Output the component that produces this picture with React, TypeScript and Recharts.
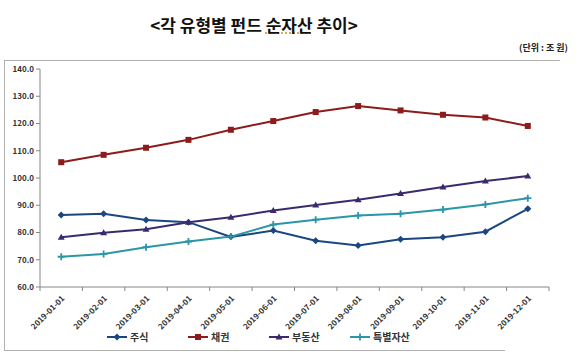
import React from 'react';
import { LineChart, Line, XAxis, YAxis, Legend } from 'recharts';

const months = [
  '2019-01-01', '2019-02-01', '2019-03-01', '2019-04-01', '2019-05-01', '2019-06-01',
  '2019-07-01', '2019-08-01', '2019-09-01', '2019-10-01', '2019-11-01', '2019-12-01',
];
const stocks = [86.4, 86.9, 84.6, 83.8, 78.4, 80.7, 77.0, 75.2, 77.5, 78.3, 80.3, 88.7];
const bonds = [105.8, 108.5, 111.1, 114.0, 117.7, 120.9, 124.2, 126.4, 124.8, 123.2, 122.2, 119.1];
const realEstate = [78.3, 79.9, 81.2, 83.8, 85.6, 88.1, 90.1, 92.0, 94.3, 96.7, 98.9, 100.7];
const specialAssets = [71.1, 72.1, 74.6, 76.7, 78.5, 82.9, 84.7, 86.2, 86.9, 88.4, 90.3, 92.6];
const yTicks = [60, 70, 80, 90, 100, 110, 120, 130, 140];

const data = months.map((m, i) => ({
  idx: i,
  month: m,
  stocks: stocks[i],
  bonds: bonds[i],
  realEstate: realEstate[i],
  specialAssets: specialAssets[i],
}));

// tick marks sit between categories (Excel style)
const xBoundaries = months.map((_, i) => i - 0.5).concat(months.length - 0.5);

const FONT = '"Noto Sans CJK KR", "Noto Sans", sans-serif';
const CHART_W = 560;
const PLOT_LEFT = 40;
const PLOT_RIGHT_MARGIN = 11;
const HALF_BAND = (CHART_W - PLOT_LEFT - PLOT_RIGHT_MARGIN) / months.length / 2;

// marker shapes
const Diamond = ({ cx, cy, color }: any) => (
  <path d={`M${cx},${cy - 3.5} L${cx + 3.5},${cy} L${cx},${cy + 3.5} L${cx - 3.5},${cy} Z`} fill={color} />
);
const Square = ({ cx, cy, color }: any) => (
  <rect x={cx - 3} y={cy - 3} width={6} height={6} fill={color} />
);
const Triangle = ({ cx, cy, color }: any) => (
  <path d={`M${cx},${cy - 3.5} L${cx + 3.5},${cy + 2.5} L${cx - 3.5},${cy + 2.5} Z`} fill={color} />
);
const Cross = ({ cx, cy, color }: any) => (
  <path d={`M${cx - 3.5},${cy} L${cx + 3.5},${cy} M${cx},${cy - 3.5} L${cx},${cy + 3.5}`} stroke={color} strokeWidth={1.8} />
);

const series = [
  { key: 'stocks', name: '주식', color: '#1b4680', Shape: Diamond },
  { key: 'bonds', name: '채권', color: '#8e1b1b', Shape: Square },
  { key: 'realEstate', name: '부동산', color: '#3c2a6e', Shape: Triangle },
  { key: 'specialAssets', name: '특별자산', color: '#2a96a8', Shape: Cross },
];

const XTick = ({ x, y, payload }: any) => {
  const i = Math.round(payload.value + 0.5);
  if (i < 0 || i >= months.length) return null;
  const tx = x + HALF_BAND + 4;
  const ty = y + 6;
  return (
    <text
      x={tx}
      y={ty}
      transform={`rotate(-45, ${tx}, ${ty})`}
      textAnchor="end"
      fontSize={8}
      fontWeight={700}
      fill="#333"
      fontFamily={FONT}
    >
      {months[i]}
    </text>
  );
};

const LegendContent = () => (
  <div style={{ display: 'flex', paddingLeft: 107, paddingTop: 2, fontFamily: FONT, fontSize: 10, color: '#333', fontWeight: 700 }}>
    {series.map((s) => (
      <div key={s.key} style={{ display: 'flex', alignItems: 'center', width: 81 }}>
        <svg width={20} height={10}>
          <line x1={0} y1={5} x2={20} y2={5} stroke={s.color} strokeWidth={2} />
          <s.Shape cx={10} cy={5} color={s.color} />
        </svg>
        <span style={{ marginLeft: 3 }}>{s.name}</span>
      </div>
    ))}
  </div>
);

const App: React.FC = () => {
  return (
    <div style={{ position: 'absolute', left: 0, top: 0, width: 580, height: 358, background: '#fff', fontFamily: FONT }}>
      <div style={{ position: 'absolute', left: 0, width: 508, top: 12, textAlign: 'center', fontSize: 17, fontWeight: 700, color: '#111' }}>
        {'<각 유형별 펀드 '}
        <span style={{ textDecoration: 'underline dotted #c9a040' }}>순자산</span>
        {' 추이>'}
      </div>
      <div style={{ position: 'absolute', left: 519, top: 41, fontSize: 9, fontWeight: 700, color: '#222' }}>
        (단위 : 조 원)
      </div>
      {/* chart frame */}
      <div style={{ position: 'absolute', left: 4, top: 60, width: 556, height: 1, background: '#b0b0b0' }} />
      <div style={{ position: 'absolute', left: 4, top: 60, width: 1, height: 291, background: '#b0b0b0' }} />
      <div style={{ position: 'absolute', left: 4, top: 350, width: 501, height: 1, background: '#b0b0b0' }} />
      <div style={{ position: 'absolute', left: 0, top: 60 }}>
        <LineChart width={CHART_W} height={290} data={data} margin={{ top: 9, right: PLOT_RIGHT_MARGIN, left: 0, bottom: 0 }}>
          <XAxis
            dataKey="idx"
            type="number"
            domain={[-0.5, months.length - 0.5]}
            ticks={xBoundaries}
            height={40}
            interval={0}
            tick={<XTick />}
            stroke="#868686"
            tickSize={4}
          />
          <YAxis
            width={PLOT_LEFT}
            domain={[60, 140]}
            ticks={yTicks}
            tickFormatter={(v: number) => v.toFixed(1)}
            tick={{ fontSize: 8, fontWeight: 700, fill: '#333', fontFamily: FONT }}
            stroke="#868686"
            tickSize={4}
            interval={0}
          />
          <Legend verticalAlign="bottom" height={23} content={<LegendContent />} />
          {series.map((s) => (
            <Line
              key={s.key}
              dataKey={s.key}
              name={s.name}
              stroke={s.color}
              strokeWidth={2}
              isAnimationActive={false}
              dot={(p: any) => <s.Shape key={`${s.key}-${p.index}`} cx={p.cx} cy={p.cy} color={s.color} />}
              activeDot={false}
            />
          ))}
        </LineChart>
      </div>
    </div>
  );
};

export default App;
